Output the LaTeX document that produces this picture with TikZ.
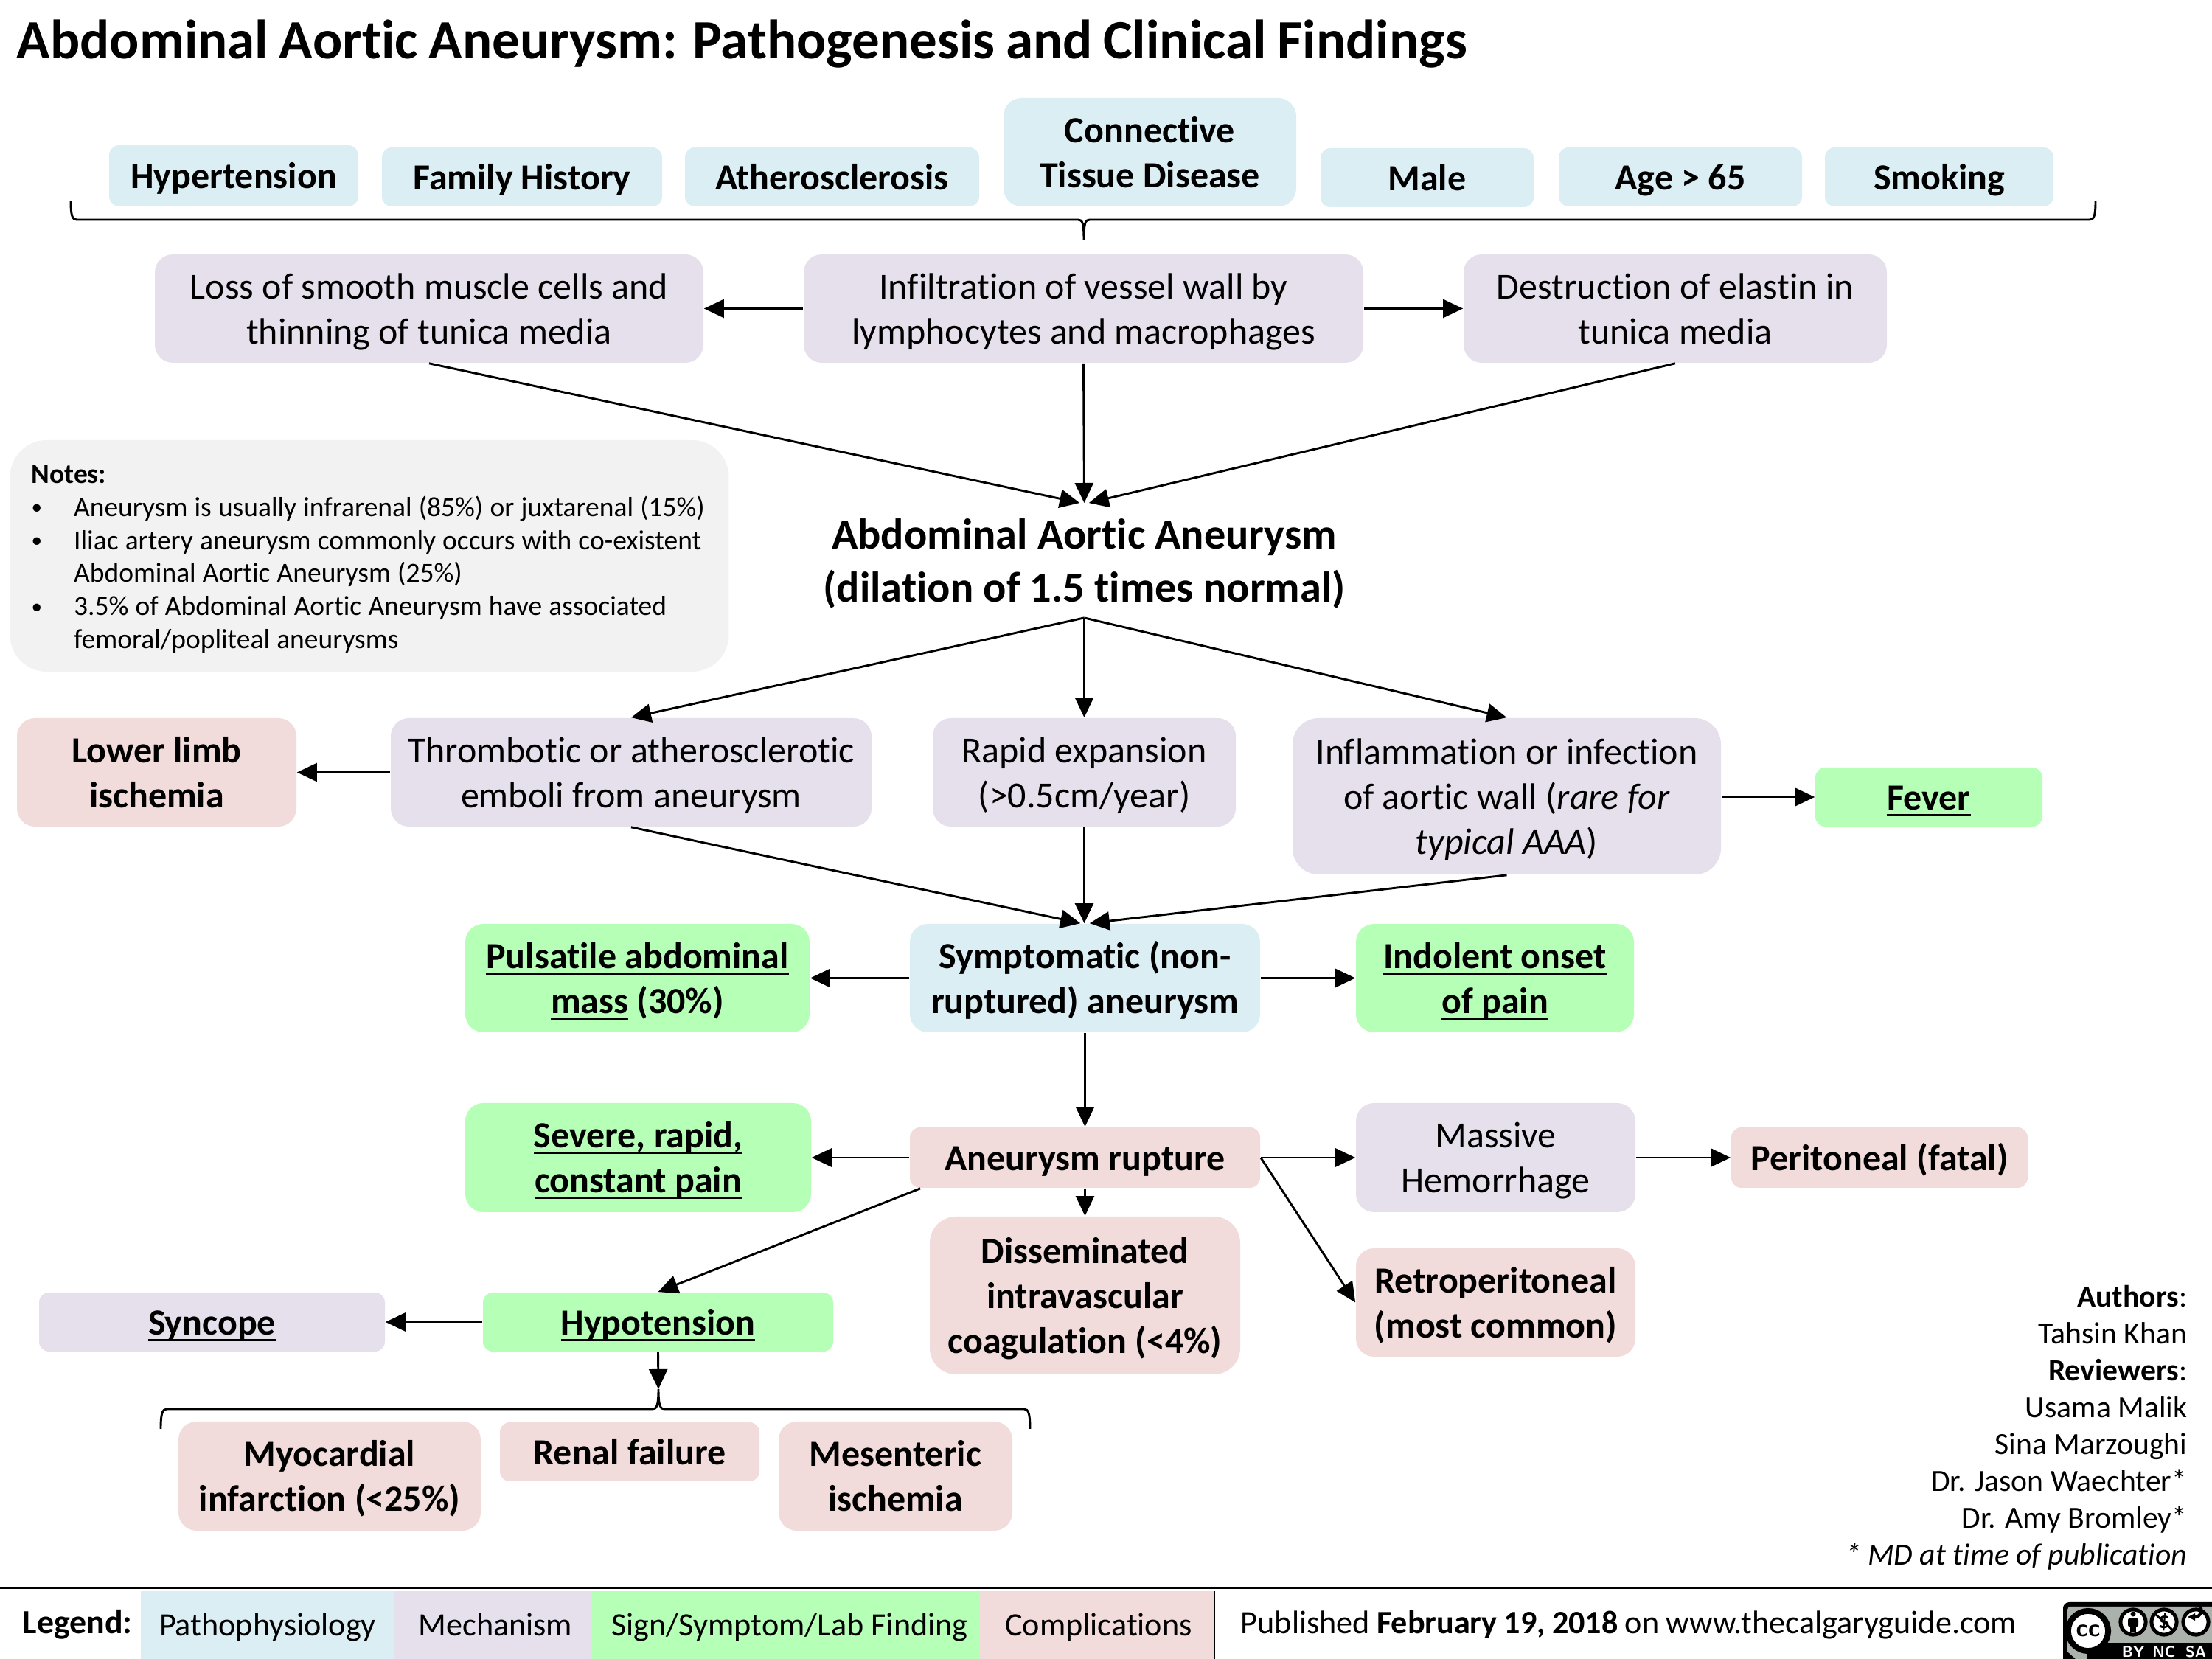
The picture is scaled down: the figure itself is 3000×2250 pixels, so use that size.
\documentclass[tikz,border=0pt]{standalone}
\usepackage{fontspec}
\setmainfont{Carlito}[Ligatures=NoCommon]
\usetikzlibrary{arrows.meta,shapes.geometric}
\definecolor{pblue}{HTML}{DAEEF3}
\definecolor{plav}{HTML}{E6E0EC}
\definecolor{pgreen}{HTML}{B6FFB6}
\definecolor{ppink}{HTML}{F2DCDB}
\definecolor{pgrey}{HTML}{F2F2F2}
\definecolor{logopanel}{HTML}{AAB2AB}
\newcommand\ulx[1]{\setbox0\hbox{#1}\leavevmode\rlap{\vrule width\wd0 height -1.3pt depth 2pt}\box0\relax}
\newcommand\stT{\rule{0pt}{12.4pt}}
\newcommand\stB{\rule[-4pt]{0pt}{4pt}}
\newcommand\bx[7][]{%
  \pgfmathsetmacro\bw{(#5-#3)*.24}\pgfmathsetmacro\bh{(#6-#4)*.24}%
  \pgfmathsetmacro\br{min(\bw,\bh)/6}%
  \node[#2,#1,minimum width=\bw pt,minimum height=\bh pt,rounded corners=\br pt]
    (#3x#4) at ({(#3+#5)/2},{(#4+#6)/2}) {\stT #7\stB};}
\tikzset{
  base/.style={inner sep=0pt,align=center,font=\fontsize{12}{14.64}\selectfont},
  risk/.style={base,fill=pblue,font=\fontsize{12}{14.64}\selectfont\bfseries},
  mech/.style={base,fill=plav},
  mechb/.style={base,fill=plav,font=\fontsize{12}{14.64}\selectfont\bfseries},
  sign/.style={base,fill=pgreen,font=\fontsize{12}{14.64}\selectfont\bfseries},
  comp/.style={base,fill=ppink,font=\fontsize{12}{14.64}\selectfont\bfseries},
  conn/.style={-{Triangle[length=6.5pt,width=6pt]},line width=.7pt,black},
  brc/.style={line width=.7pt,black},
  leg/.style={inner sep=0pt,font=\fontsize{10.6}{13}\selectfont,minimum height=22.08pt,text height=9.8pt,text depth=3pt},
  auth/.style={inner sep=0pt,anchor=base east,font=\fontsize{10}{12}\selectfont},
}
\newcommand\nb{\makebox[13.8pt][l]{\raisebox{.6pt}{\fontsize{7}{8}\selectfont •}}}
\newcommand\nn{\makebox[13.8pt][l]{}}
\begin{document}
\begin{tikzpicture}[x=.24pt,y=-.24pt]
\useasboundingbox (0,0) rectangle (3000,2250);
\node[inner sep=0pt,anchor=base west,font=\fontsize{18}{22}\selectfont\bfseries] (title) at (22,80)
  {\spaceskip=3.5pt Abdominal Aortic Aneurysm: Pathogenesis and Clinical Findings};
% risk factors
\bx{risk}{148}{197}{486}{280}{Hypertension}
\bx{risk}{518}{200}{898}{280}{Family History}
\bx{risk}{929}{200}{1328}{280}{Atherosclerosis}
\bx{risk}{1361}{133}{1758}{280}{Connective\\Tissue Disease}
\bx{risk}{1791}{201}{2080}{281}{Male}
\bx{risk}{2114}{200}{2444}{280}{Age > 65}
\bx{risk}{2475}{200}{2785}{280}{Smoking}
% top brace
\draw[brc] (96,273) .. controls (96,292) and (98,298) .. (104,298) -- (1462,298)
  .. controls (1468,298) and (1470,302) .. (1470,326)
  .. controls (1470,302) and (1472,298) .. (1478,298) -- (2834,298)
  .. controls (2840,298) and (2842,292) .. (2842,273);
% mechanisms
\bx{mech}{210}{345}{954}{492}{Loss of smooth muscle cells and\\thinning of tunica media}
\bx{mech}{1090}{345}{1849}{492}{Infiltration of vessel wall by\\lymphocytes and macrophages}
\bx{mech}{1985}{345}{2559}{492}{Destruction of elastin in\\tunica media}
\draw[conn] (1090x345) -- (210x345);
\draw[conn] (1090x345) -- (1985x345);
% AAA
\node[inner sep=0pt,align=center,minimum width=170pt,minimum height=37pt,font=\fontsize{14}{17.1}\selectfont\bfseries] (aaa) at (1470.5,760)
  {\rule{0pt}{13.3pt}Abdominal Aortic Aneurysm\\(dilation of 1.5 times normal)\rule[-3.5pt]{0pt}{3.5pt}};
\draw[conn] (210x345.south) -- ([xshift=-1.5pt]aaa.north);
\draw[conn] (1090x345.south) -- (aaa.north);
\draw[conn] (1985x345.south) -- ([xshift=1.5pt]aaa.north);
% notes
\node[fill=pgrey,rounded corners=12pt,inner xsep=7pt,inner ysep=0pt,text width=220pt,align=left,minimum height=75.4pt,
  font=\fontsize{9}{10.75}\selectfont] (notes) at (501,754)
  {\rule{0pt}{7.9pt}\textbf{Notes:}\\
  \mbox{\spaceskip=2.2pt \nb Aneurysm is usually infrarenal (85\%) or juxtarenal (15\%)}\\
  \mbox{\spaceskip=2.2pt \nb Iliac artery aneurysm commonly occurs with co-existent}\\
  \mbox{\spaceskip=2.2pt \nn Abdominal Aortic Aneurysm (25\%)}\\
  \mbox{\spaceskip=2.2pt \nb 3.5\% of Abdominal Aortic Aneurysm have associated}\\
  \mbox{\spaceskip=2.2pt \nn femoral/popliteal aneurysms}};
% second row
\bx{comp}{23}{974}{402}{1121}{Lower limb\\ischemia}
\bx{mech}{530}{974}{1182}{1121}{Thrombotic or atherosclerotic\\emboli from aneurysm}
\bx{mech}{1265}{974}{1676}{1121}{Rapid expansion\\(>0.5cm/year)}
\bx{mech}{1753}{974}{2334}{1186}{Inflammation or infection\\of aortic wall (\textit{rare for}\\\textit{typical AAA})}
\bx{sign}{2462}{1041}{2770}{1121}{\ulx{Fever}}
\draw[conn] (aaa.south) -- (530x974.north);
\draw[conn] (aaa.south) -- (1265x974.north);
\draw[conn] (aaa.south) -- (1753x974.north);
\draw[conn] (530x974.west) -- (23x974.east);
\draw[conn] (1753x974.east |- 2462x1041.west) -- (2462x1041.west);
% third row
\bx{sign}{631}{1253}{1098}{1400}{\ulx{Pulsatile abdominal}\\\ulx{mass} (30\%)}
\bx{risk}{1234}{1253}{1709}{1400}{Symptomatic (non-\\ruptured) aneurysm}
\bx{sign}{1839}{1253}{2216}{1400}{\ulx{Indolent onset}\\\ulx{of pain}}
\draw[conn] (530x974.south) -- ([xshift=-1.5pt]1234x1253.north);
\draw[conn] (1265x974.south) -- (1234x1253.north -| 1265x974.south);
\draw[conn] (1753x974.south) -- ([xshift=1.5pt]1234x1253.north);
\draw[conn] (1234x1253.west) -- (631x1253.east);
\draw[conn] (1234x1253.east) -- (1839x1253.west);
% rupture row
\bx{sign}{631}{1496}{1100}{1644}{\ulx{Severe, rapid,}\\\ulx{constant pain}}
\bx{comp}{1234}{1529}{1709}{1611}{Aneurysm rupture}
\bx{mech}{1839}{1496}{2218}{1644}{Massive\\Hemorrhage}
\bx{comp}{2348}{1529}{2750}{1611}{Peritoneal (fatal)}
\bx{comp}{1261}{1650}{1682}{1864}{Disseminated\\intravascular\\coagulation (<4\%)}
\bx{comp}{1839}{1693}{2218}{1840}{Retroperitoneal\\(most common)}
\draw[conn] (1234x1253.south) -- (1234x1529.north);
\draw[conn] (1234x1529.west) -- (631x1496.east);
\draw[conn] (1234x1529.east) -- (1839x1496.west);
\draw[conn] (1839x1496.east) -- (2348x1529.west);
\draw[conn] (1234x1529.south) -- (1261x1650.north);
\draw[conn] (1234x1529.east) -- (1839x1693.west);
% hypotension
\bx{mechb}{53}{1753}{522}{1833}{\ulx{Syncope}}
\bx{sign}{655}{1753}{1130}{1833}{\ulx{Hypotension}}
\draw[conn] ([xshift=3.6pt]1234x1529.south west) -- (655x1753.north);
\draw[conn] (655x1753.west) -- (53x1753.east);
\coordinate (lowtip) at (893,1884);
\draw[conn] (655x1753.south) -- (lowtip);
\draw[brc] (218,1938) .. controls (218,1918) and (220,1911) .. (226,1911) -- (885,1911)
  .. controls (890,1911) and (893,1908) .. (lowtip)
  .. controls (893,1908) and (896,1911) .. (901,1911) -- (1389,1911)
  .. controls (1395,1911) and (1397,1918) .. (1397,1938);
\bx{comp}{242}{1928}{652}{2076}{Myocardial\\infarction (<25\%)}
\bx{comp}{678}{1929}{1030}{2009}{Renal failure}
\bx{comp}{1056}{1928}{1373}{2076}{Mesenteric\\ischemia}
% authors
\node[auth] (a1) at (2967,1773) {\textbf{Authors}:};
\node[auth] (a2) at (2967,1823) {Tahsin Khan};
\node[auth] (a3) at (2967,1873) {\textbf{Reviewers}:};
\node[auth] (a4) at (2967,1923) {Usama Malik};
\node[auth] (a5) at (2967,1973) {Sina Marzoughi};
\node[auth] (a6) at (2967,2023) {Dr. Jason Waechter*};
\node[auth] (a7) at (2967,2073) {Dr. Amy Bromley*};
\node[auth] (a8) at (2967,2123) {\textit{* MD at time of publication}};
% legend
\draw[line width=.75pt] (0,2153.5) -- (3000,2153.5);
\node[inner sep=0pt,anchor=base west,font=\fontsize{11}{13}\selectfont\bfseries] (legtitle) at (30,2216) {Legend:};
\node[leg,fill=pblue,minimum width=82.56pt] (l1) at (363,2204) {Pathophysiology};
\node[leg,fill=plav,minimum width=63.84pt] (l2) at (668,2204) {\hspace*{1.9pt}Mechanism};
\node[leg,fill=pgreen,minimum width=126.72pt] (l3) at (1065,2204) {\hspace*{2.9pt}Sign/Symptom/Lab Finding};
\node[leg,fill=ppink,minimum width=76.32pt] (l4) at (1488,2204) {\hspace*{1pt}Complications};
\draw[line width=.4pt] (1647,2158) -- (1647,2250);
\node[inner sep=0pt,anchor=base west,font=\fontsize{10.6}{13}\selectfont] (pub) at (1682,2216)
  {\spaceskip=2.2pt Published \textbf{February 19, 2018} on www.thecalgaryguide.com};
% licence mark
\fill[black,rounded corners=2pt] (2798,2173) rectangle (3020,2270);
\fill[logopanel,rounded corners=1pt] (2804,2179) rectangle (3020,2228);
\fill[logopanel] (2804,2225) -- (2804,2240) -- (2815,2250) -- (2830,2250) -- (2830,2225) -- cycle;
\node[circle,fill=white,draw=black,line width=1.9pt,minimum size=13pt,inner sep=0pt,font=\sffamily\bfseries\fontsize{8}{8}\selectfont] (ccm) at (2832,2212) {cc};
\node[circle,fill=white,draw=black,line width=1.2pt,minimum size=8.2pt,inner sep=0pt] (bym) at (2893,2200) {};
\fill (2893,2189) circle (3.5);
\fill[rounded corners=.5pt] (2886,2195) rectangle (2900,2206);
\fill (2889,2204) rectangle (2897,2213);
\node[circle,fill=white,draw=black,line width=1.2pt,minimum size=8.2pt,inner sep=0pt,font=\bfseries\fontsize{7.5}{8}\selectfont] (ncm) at (2935,2200) {\$};
\draw[line width=.7pt] (2922,2188) -- (2948,2212);
\node[circle,fill=white,draw=black,line width=1.2pt,minimum size=8.2pt,inner sep=0pt] (sam) at (2978,2200) {};
\draw[line width=1pt] (2972,2192) arc[start angle=120,end angle=-130,radius=9];
\fill (2967,2193) -- (2977,2188) -- (2977,2198) -- cycle;
\node[inner sep=0pt,text=white,font=\sffamily\bfseries\fontsize{5}{6}\selectfont] (byt) at (2893,2240) {BY};
\node[inner sep=0pt,text=white,font=\sffamily\bfseries\fontsize{5}{6}\selectfont] (nct) at (2935,2240) {NC};
\node[inner sep=0pt,text=white,font=\sffamily\bfseries\fontsize{5}{6}\selectfont] (sat) at (2978,2240) {SA};
\end{tikzpicture}
\end{document}
